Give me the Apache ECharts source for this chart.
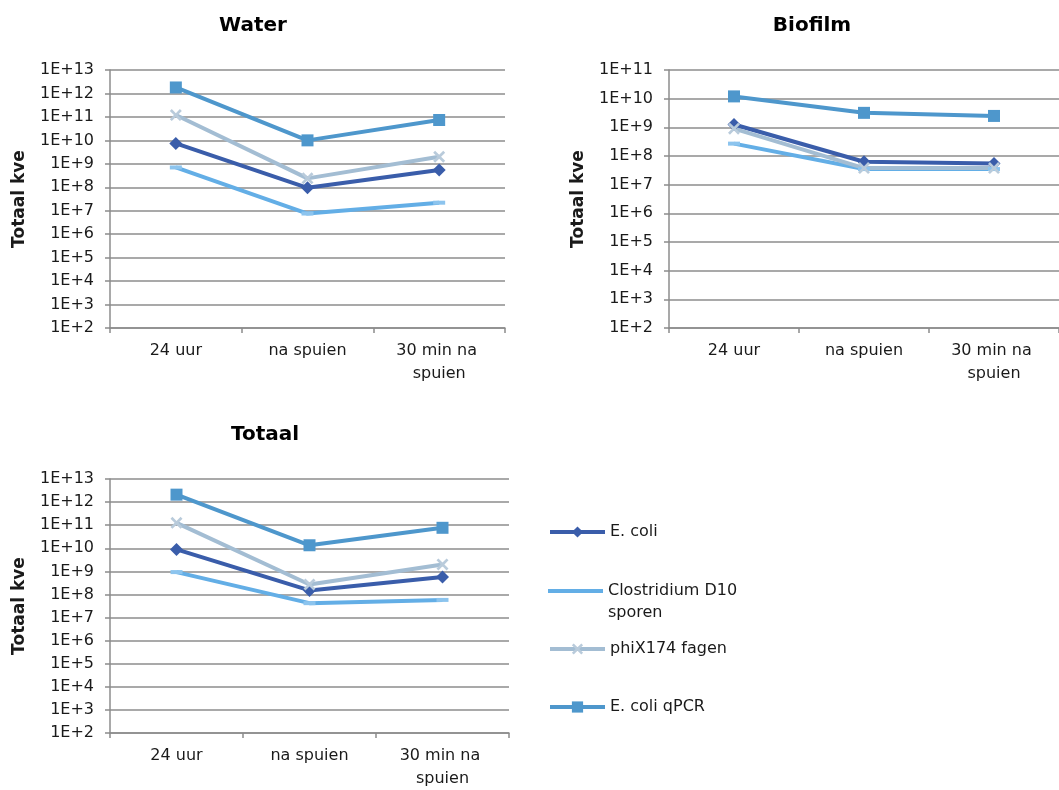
<!DOCTYPE html>
<html>
<head>
<meta charset="utf-8">
<style>
  html, body { margin: 0; padding: 0; background: #ffffff; }
  #chart { width: 1059px; height: 790px; }
</style>
<script src="https://cdn.jsdelivr.net/npm/echarts@6/dist/echarts.min.js"></script>
</head>
<body>
<div id="chart"></div>
<script>
// Sampling moments
const categories = ['24 uur', 'na spuien', '30 min na spuien'];

// Water
const eColiWater = [7.4e9, 9.5e7, 5.4e8];
const clostridiumWater = [7.0e8, 7.6e6, 2.2e7];
const phiXWater = [1.2e11, 2.4e8, 2.0e9];
const qpcrWater = [1.8e12, 1.0e10, 7.4e10];

// Biofilm
const eColiBiofilm = [1.26e9, 6.3e7, 5.5e7];
const clostridiumBiofilm = [2.7e8, 3.5e7, 3.5e7];
const phiXBiofilm = [9.0e8, 3.8e7, 3.8e7];
const qpcrBiofilm = [1.2e10, 3.2e9, 2.5e9];

// Totaal
const eColiTotaal = [8.9e9, 1.5e8, 5.7e8];
const clostridiumTotaal = [9.3e8, 4.2e7, 5.8e7];
const phiXTotaal = [1.26e11, 2.7e8, 2.0e9];
const qpcrTotaal = [2.1e12, 1.35e10, 7.7e10];

// Log axis ranges (exponents)
const yRangeWater = [2, 13];
const yRangeBiofilm = [2, 11];
const yRangeTotaal = [2, 13];

const panelTitles = ['Water', 'Biofilm', 'Totaal'];
const yAxisTitle = 'Totaal kve';
const seriesNames = ['E. coli', 'Clostridium D10 sporen', 'phiX174 fagen', 'E. coli qPCR'];

const FONT = '"DejaVu Sans", Verdana, sans-serif';
const TEXT = '#1a1a1a';
const GRID = '#8c8c8c';

const colors = {
  eColi: '#3a5daa',
  clos: '#63aee6',
  closMark: '#8cc4ee',
  phiX: '#a3bdd3',
  phiXMark: '#b9cbdb',
  qpcr: '#4e97cc'
};

const LINE_W = 4;
const xMark = 'path://M0,1.6 L1.6,0 L5,3.4 L8.4,0 L10,1.6 L6.6,5 L10,8.4 L8.4,10 L5,6.6 L1.6,10 L0,8.4 L3.4,5 Z';
const barIcon = 'path://M0,0 H55 V4 H0 Z';

const grids = [
  { left: 110, top: 70, width: 395, height: 258 },
  { left: 669, top: 70, width: 391, height: 258 },
  { left: 110, top: 479, width: 399, height: 259 }
];

function xAxisFor(i) {
  return {
    type: 'category', gridIndex: i, data: categories, boundaryGap: true,
    axisLine: { show: true, lineStyle: { color: GRID, width: 1.5 } },
    axisTick: { show: true, inside: false, length: 5, lineStyle: { color: GRID, width: 1.5 } },
    axisLabel: {
      interval: 0, margin: 11, color: TEXT, fontFamily: FONT, fontSize: 16,
      lineHeight: 23, width: 112, overflow: 'break'
    },
    splitLine: { show: false }
  };
}

function yAxisFor(i, range) {
  return {
    type: 'log', gridIndex: i, logBase: 10,
    min: Math.pow(10, range[0]), max: Math.pow(10, range[1]), interval: 1,
    name: yAxisTitle, nameLocation: 'middle', nameGap: 82, nameRotate: 90,
    nameTextStyle: { color: TEXT, fontFamily: FONT, fontSize: 17, fontWeight: 'bold' },
    axisLine: { show: true, lineStyle: { color: GRID, width: 1.5 } },
    axisTick: { show: true, inside: false, length: 5, lineStyle: { color: GRID, width: 1.5 } },
    axisLabel: {
      margin: 16, color: TEXT, fontFamily: FONT, fontSize: 16,
      formatter: v => '1E+' + Math.round(Math.log10(v))
    },
    splitLine: { show: true, lineStyle: { color: GRID, width: 1.5 } }
  };
}

function seriesFor(i, eColi, clos, phiX, qpcr) {
  const base = { type: 'line', xAxisIndex: i, yAxisIndex: i, showSymbol: true, animation: false, z: 2 };
  return [
    Object.assign({}, base, {
      name: seriesNames[0], data: eColi, symbol: 'diamond', symbolSize: 13,
      itemStyle: { color: colors.eColi }, lineStyle: { color: colors.eColi, width: LINE_W }
    }),
    Object.assign({}, base, {
      name: seriesNames[1], data: clos, symbol: 'rect', symbolSize: [12, 4],
      itemStyle: { color: colors.closMark }, lineStyle: { color: colors.clos, width: LINE_W }
    }),
    Object.assign({}, base, {
      name: seriesNames[2], data: phiX, symbol: xMark, symbolSize: 12,
      itemStyle: { color: colors.phiXMark }, lineStyle: { color: colors.phiX, width: LINE_W }
    }),
    Object.assign({}, base, {
      name: seriesNames[3], data: qpcr, symbol: 'rect', symbolSize: 12,
      itemStyle: { color: colors.qpcr }, lineStyle: { color: colors.qpcr, width: LINE_W }
    })
  ];
}

function legendFor(item, top) {
  return {
    data: [item], left: 548, top: top, orient: 'vertical', padding: 0,
    itemWidth: 55, itemHeight: 14, itemGap: 0, selectedMode: false,
    lineStyle: { width: LINE_W },
    textStyle: { color: TEXT, fontFamily: FONT, fontSize: 16, lineHeight: 22 }
  };
}

const titleStyle = { color: '#000000', fontFamily: FONT, fontSize: 20, fontWeight: 'bold' };

const option = {
  backgroundColor: '#ffffff',
  animation: false,
  title: [
    { text: panelTitles[0], left: 248, top: 11, textAlign: 'center', textStyle: titleStyle },
    { text: panelTitles[1], left: 807, top: 11, textAlign: 'center', textStyle: titleStyle },
    { text: panelTitles[2], left: 260, top: 420, textAlign: 'center', textStyle: titleStyle }
  ],
  legend: [
    legendFor(seriesNames[0], 521),
    Object.assign(legendFor({ name: seriesNames[1], icon: barIcon, itemStyle: { color: colors.clos } }, 558), {
      itemHeight: 4,
      // leading blank line keeps the icon level with the first text line
      formatter: () => '\nClostridium D10\nsporen'
    }),
    legendFor(seriesNames[2], 638),
    legendFor(seriesNames[3], 696)
  ],
  grid: grids,
  xAxis: [xAxisFor(0), xAxisFor(1), xAxisFor(2)],
  yAxis: [yAxisFor(0, yRangeWater), yAxisFor(1, yRangeBiofilm), yAxisFor(2, yRangeTotaal)],
  series: [].concat(
    seriesFor(0, eColiWater, clostridiumWater, phiXWater, qpcrWater),
    seriesFor(1, eColiBiofilm, clostridiumBiofilm, phiXBiofilm, qpcrBiofilm),
    seriesFor(2, eColiTotaal, clostridiumTotaal, phiXTotaal, qpcrTotaal)
  )
};

const chart = echarts.init(document.getElementById('chart'), null, { renderer: 'canvas' });
chart.setOption(option);
</script>
</body>
</html>
